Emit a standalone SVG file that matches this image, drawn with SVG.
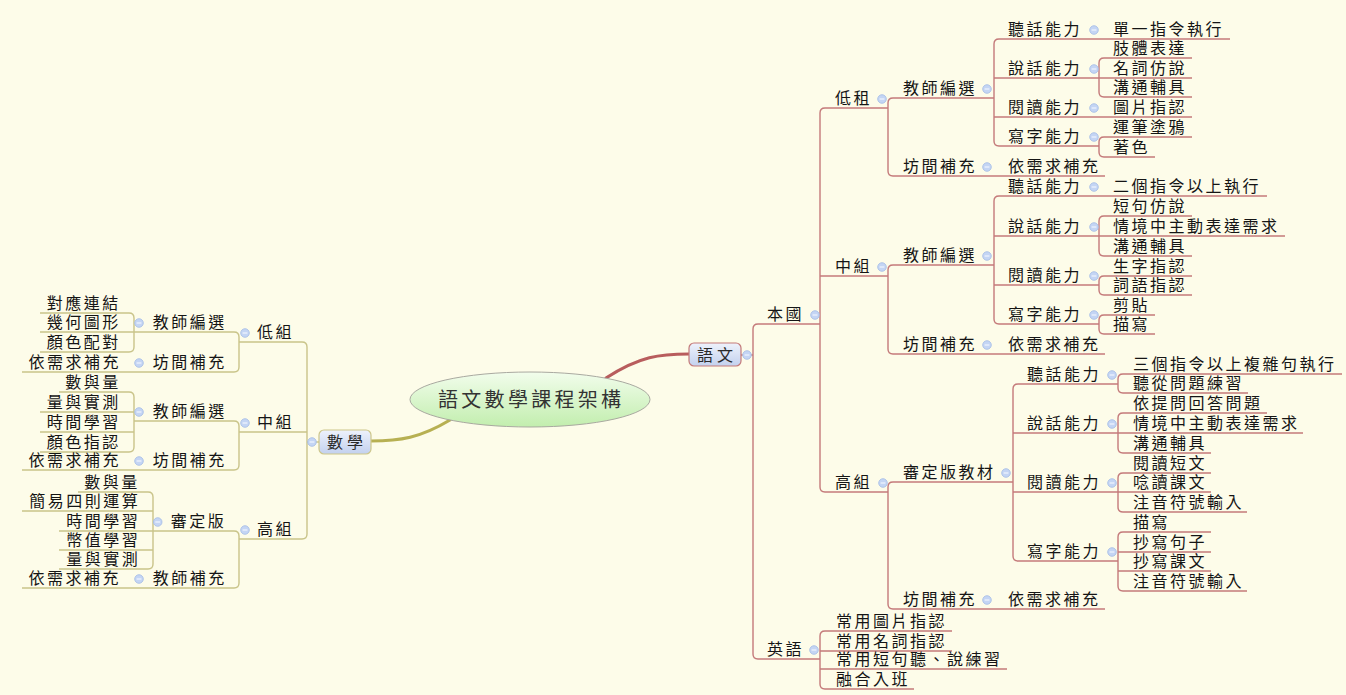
<svg xmlns="http://www.w3.org/2000/svg" xmlns:xlink="http://www.w3.org/1999/xlink" width="1346" height="695" viewBox="0 0 1346 695">
<style>
.t{font-family:"Noto Sans CJK TC","Noto Sans CJK SC",sans-serif;font-size:16px;letter-spacing:2.5px;fill:#151515}
.c{font-family:"Noto Sans CJK TC","Noto Sans CJK SC",sans-serif;font-size:20px;letter-spacing:3.3px;fill:#333}
.b{font-family:"Noto Sans CJK TC","Noto Sans CJK SC",sans-serif;font-size:16px;letter-spacing:4px;fill:#2a2a2a}
.r{fill:none;stroke:#c47a7a;stroke-width:1.4}
.o{fill:none;stroke:#c9c489;stroke-width:1.4}
</style>
<defs>
<linearGradient id="gBox" x1="0" y1="0" x2="0" y2="1"><stop offset="0" stop-color="#eef2fc"/><stop offset="1" stop-color="#c3d1ee"/></linearGradient>
<linearGradient id="gEl" x1="0" y1="0" x2="0" y2="1"><stop offset="0" stop-color="#f2fdec"/><stop offset="1" stop-color="#c2eeae"/></linearGradient>
<g id="mn"><circle r="4.3" fill="#c4d5f4" stroke="#a3bbe6" stroke-width="0.8"/><line x1="-2.4" y1="0" x2="2.4" y2="0" stroke="#f4f7ff" stroke-width="1.1"/></g>
</defs>
<rect x="0" y="0" width="1346" height="695" fill="#fdfce9"/>

<g id="connectors">
<path d="M606,378 C640,356 660,354 689,354" fill="none" stroke="#b85d5d" stroke-width="3.2" stroke-linecap="round"/>
<path d="M450,420 C420,438 400,441 371,441" fill="none" stroke="#b7b052" stroke-width="3.2" stroke-linecap="round"/>
<path class="r" d="M741,355 H753"/>
<path class="r" d="M758,324 Q753,324 753,329 V654 Q753,659 758,659"/>
<path class="r" d="M758,324 H820"/>
<path class="r" d="M758,659 H820"/>
<path class="r" d="M825,108 Q820,108 820,113 V487 Q820,492 825,492"/>
<path class="r" d="M825,108 H888"/>
<path class="r" d="M820,276 H888"/>
<path class="r" d="M825,492 H888"/>
<path class="r" d="M893,98 Q888,98 888,103 V171 Q888,176 893,176"/>
<path class="r" d="M893,98 H994"/>
<path class="r" d="M893,176 H1105"/>
<path class="r" d="M999,39 Q994,39 994,44 V141 Q994,146 999,146"/>
<path class="r" d="M999,39 H1230"/>
<path class="r" d="M994,78 H1099"/>
<path class="r" d="M994,117 H1192"/>
<path class="r" d="M999,146 H1099"/>
<path class="r" d="M1104,58 Q1099,58 1099,63 V92 Q1099,97 1104,97"/>
<path class="r" d="M1104,58 H1192 M1099,78 H1192 M1104,97 H1192"/>
<path class="r" d="M1104,137 Q1099,137 1099,142 V152 Q1099,157 1104,157"/>
<path class="r" d="M1104,137 H1192 M1104,157 H1155"/>
<path class="r" d="M893,265 Q888,265 888,270 V349 Q888,354 893,354"/>
<path class="r" d="M893,265 H994"/>
<path class="r" d="M893,354 H1105"/>
<path class="r" d="M999,196 Q994,196 994,201 V319 Q994,324 999,324"/>
<path class="r" d="M999,196 H1267"/>
<path class="r" d="M994,236 H1099"/>
<path class="r" d="M994,285 H1099"/>
<path class="r" d="M999,324 H1099"/>
<path class="r" d="M1104,216 Q1099,216 1099,221 V251 Q1099,256 1104,256"/>
<path class="r" d="M1104,216 H1192 M1099,236 H1285 M1104,256 H1192"/>
<path class="r" d="M1104,276 Q1099,276 1099,281 V290 Q1099,295 1104,295"/>
<path class="r" d="M1104,276 H1192 M1104,295 H1192"/>
<path class="r" d="M1104,315 Q1099,315 1099,320 V329 Q1099,334 1104,334"/>
<path class="r" d="M1104,315 H1155 M1104,334 H1155"/>
<path class="r" d="M893,482 Q888,482 888,487 V604 Q888,609 893,609"/>
<path class="r" d="M893,482 H1013"/>
<path class="r" d="M893,609 H1105"/>
<path class="r" d="M1018,384 Q1013,384 1013,389 V556 Q1013,561 1018,561"/>
<path class="r" d="M1018,384 H1118"/>
<path class="r" d="M1013,433 H1118"/>
<path class="r" d="M1013,492 H1118"/>
<path class="r" d="M1018,561 H1118"/>
<path class="r" d="M1123,374 Q1118,374 1118,379 V388 Q1118,393 1123,393"/>
<path class="r" d="M1123,374 H1342 M1123,393 H1248"/>
<path class="r" d="M1123,413 Q1118,413 1118,418 V448 Q1118,453 1123,453"/>
<path class="r" d="M1123,413 H1267 M1118,433 H1303 M1123,453 H1211"/>
<path class="r" d="M1123,473 Q1118,473 1118,478 V507 Q1118,512 1123,512"/>
<path class="r" d="M1123,473 H1211 M1118,492 H1211 M1123,512 H1247"/>
<path class="r" d="M1123,532 Q1118,532 1118,537 V586 Q1118,591 1123,591"/>
<path class="r" d="M1123,532 H1211 M1118,552 H1211 M1118,571 H1211 M1123,591 H1247"/>
<path class="r" d="M825,631 Q820,631 820,636 V684 Q820,689 825,689"/>
<path class="r" d="M825,631 H952 M820,651 H952 M820,669 H1007 M825,689 H914"/>
<path class="o" d="M319,442 H307"/>
<path class="o" d="M302,342 Q307,342 307,347 V534 Q307,539 302,539"/>
<path class="o" d="M302,342 H239 M307,432 H239 M302,539 H239"/>
<path class="o" d="M234,332 Q239,332 239,337 V367 Q239,372 234,372"/>
<path class="o" d="M234,332 H134 M234,372 H22"/>
<path class="o" d="M129,313 Q134,313 134,318 V347 Q134,352 129,352"/>
<path class="o" d="M129,313 H40 M134,332 H40 M129,352 H40"/>
<path class="o" d="M234,421 Q239,421 239,426 V465 Q239,470 234,470"/>
<path class="o" d="M234,421 H134 M234,470 H22"/>
<path class="o" d="M129,392 Q134,392 134,397 V447 Q134,452 129,452"/>
<path class="o" d="M129,392 H59 M134,412 H40 M134,432 H40 M129,452 H40"/>
<path class="o" d="M234,531 Q239,531 239,536 V583 Q239,588 234,588"/>
<path class="o" d="M234,531 H153 M234,588 H22"/>
<path class="o" d="M148,492 Q153,492 153,497 V564 Q153,569 148,569"/>
<path class="o" d="M148,492 H78 M153,511 H22 M153,531 H59 M153,550 H59 M148,569 H59"/>
</g>

<g id="root">
<ellipse cx="530" cy="399.5" rx="120" ry="27.5" fill="url(#gEl)" stroke="#a9a9a0" stroke-width="1"/>
<text class="c" x="438" y="406.5">語文數學課程架構</text>
</g>

<g id="yuwen">
<rect x="689" y="343" width="52" height="23" rx="5" fill="url(#gBox)" stroke="#c47a7a" stroke-width="1.2"/>
<text class="b" x="697" y="360.5">語文</text>
<use xlink:href="#mn" x="747" y="355"/>
</g>
<g id="shuxue">
<rect x="319" y="430" width="52" height="24" rx="5" fill="url(#gBox)" stroke="#cdc68a" stroke-width="1.2"/>
<text class="b" x="327" y="448">數學</text>
<use xlink:href="#mn" x="312" y="442"/>
</g>

<g id="benguo"><text class="t" x="767" y="319.5">本國</text><use xlink:href="#mn" x="815" y="315"/></g>
<g id="dizu"><text class="t" x="835" y="103.5">低租</text><use xlink:href="#mn" x="882" y="99"/></g>
<g id="dz-jsbx"><text class="t" x="903" y="93.5">教師編選</text><use xlink:href="#mn" x="987" y="89"/></g>
<g id="dz-tl"><text class="t" x="1008" y="34.5">聽話能力</text><use xlink:href="#mn" x="1094" y="30"/></g>
<g id="dz-tl-1"><text class="t" x="1113" y="34.5">單一指令執行</text></g>
<g id="dz-sh"><text class="t" x="1008" y="73.5">說話能力</text><use xlink:href="#mn" x="1094" y="69"/></g>
<g id="dz-sh-1"><text class="t" x="1113" y="53.5">肢體表達</text></g>
<g id="dz-sh-2"><text class="t" x="1113" y="73.5">名詞仿說</text></g>
<g id="dz-sh-3"><text class="t" x="1113" y="92.5">溝通輔具</text></g>
<g id="dz-yd"><text class="t" x="1008" y="112.5">閱讀能力</text><use xlink:href="#mn" x="1094" y="108"/></g>
<g id="dz-yd-1"><text class="t" x="1113" y="112.5">圖片指認</text></g>
<g id="dz-xz"><text class="t" x="1008" y="141.5">寫字能力</text><use xlink:href="#mn" x="1094" y="137"/></g>
<g id="dz-xz-1"><text class="t" x="1113" y="132.5">運筆塗鴉</text></g>
<g id="dz-xz-2"><text class="t" x="1113" y="152.5">著色</text></g>
<g id="dz-fj"><text class="t" x="903" y="171.5">坊間補充</text><use xlink:href="#mn" x="987" y="167"/></g>
<g id="dz-fj-1"><text class="t" x="1008" y="171.5">依需求補充</text></g>

<g id="zhongzu"><text class="t" x="835" y="271.5">中組</text><use xlink:href="#mn" x="882" y="267"/></g>
<g id="zz-jsbx"><text class="t" x="903" y="260.5">教師編選</text><use xlink:href="#mn" x="987" y="256"/></g>
<g id="zz-tl"><text class="t" x="1008" y="191.5">聽話能力</text><use xlink:href="#mn" x="1094" y="187"/></g>
<g id="zz-tl-1"><text class="t" x="1113" y="191.5">二個指令以上執行</text></g>
<g id="zz-sh"><text class="t" x="1008" y="231.5">說話能力</text><use xlink:href="#mn" x="1094" y="227"/></g>
<g id="zz-sh-1"><text class="t" x="1113" y="211.5">短句仿說</text></g>
<g id="zz-sh-2"><text class="t" x="1113" y="231.5">情境中主動表達需求</text></g>
<g id="zz-sh-3"><text class="t" x="1113" y="251.5">溝通輔具</text></g>
<g id="zz-yd"><text class="t" x="1008" y="280.5">閱讀能力</text><use xlink:href="#mn" x="1094" y="276"/></g>
<g id="zz-yd-1"><text class="t" x="1113" y="271.5">生字指認</text></g>
<g id="zz-yd-2"><text class="t" x="1113" y="290.5">詞語指認</text></g>
<g id="zz-xz"><text class="t" x="1008" y="319.5">寫字能力</text><use xlink:href="#mn" x="1094" y="315"/></g>
<g id="zz-xz-1"><text class="t" x="1113" y="310.5">剪貼</text></g>
<g id="zz-xz-2"><text class="t" x="1113" y="329.5">描寫</text></g>
<g id="zz-fj"><text class="t" x="903" y="349.5">坊間補充</text><use xlink:href="#mn" x="987" y="345"/></g>
<g id="zz-fj-1"><text class="t" x="1008" y="349.5">依需求補充</text></g>

<g id="gaozu"><text class="t" x="835" y="487.5">高組</text><use xlink:href="#mn" x="883" y="483"/></g>
<g id="gz-sd"><text class="t" x="903" y="477.5">審定版教材</text><use xlink:href="#mn" x="1006" y="473"/></g>
<g id="gz-tl"><text class="t" x="1027" y="379.5">聽話能力</text><use xlink:href="#mn" x="1112" y="375"/></g>
<g id="gz-tl-1"><text class="t" x="1133" y="369.5">三個指令以上複雜句執行</text></g>
<g id="gz-tl-2"><text class="t" x="1133" y="388.5">聽從問題練習</text></g>
<g id="gz-sh"><text class="t" x="1027" y="428.5">說話能力</text><use xlink:href="#mn" x="1112" y="424"/></g>
<g id="gz-sh-1"><text class="t" x="1133" y="408.5">依提問回答問題</text></g>
<g id="gz-sh-2"><text class="t" x="1133" y="428.5">情境中主動表達需求</text></g>
<g id="gz-sh-3"><text class="t" x="1133" y="448.5">溝通輔具</text></g>
<g id="gz-yd"><text class="t" x="1027" y="487.5">閱讀能力</text><use xlink:href="#mn" x="1112" y="483"/></g>
<g id="gz-yd-1"><text class="t" x="1133" y="468.5">閱讀短文</text></g>
<g id="gz-yd-2"><text class="t" x="1133" y="487.5">唸讀課文</text></g>
<g id="gz-yd-3"><text class="t" x="1133" y="507.5">注音符號輸入</text></g>
<g id="gz-xz"><text class="t" x="1027" y="556.5">寫字能力</text><use xlink:href="#mn" x="1112" y="552"/></g>
<g id="gz-xz-1"><text class="t" x="1133" y="527.5">描寫</text></g>
<g id="gz-xz-2"><text class="t" x="1133" y="547.5">抄寫句子</text></g>
<g id="gz-xz-3"><text class="t" x="1133" y="566.5">抄寫課文</text></g>
<g id="gz-xz-4"><text class="t" x="1133" y="586.5">注音符號輸入</text></g>
<g id="gz-fj"><text class="t" x="903" y="604.5">坊間補充</text><use xlink:href="#mn" x="987" y="600"/></g>
<g id="gz-fj-1"><text class="t" x="1008" y="604.5">依需求補充</text></g>

<g id="yingyu"><text class="t" x="767" y="654.5">英語</text><use xlink:href="#mn" x="814" y="650"/></g>
<g id="yy-1"><text class="t" x="836" y="626.5">常用圖片指認</text></g>
<g id="yy-2"><text class="t" x="836" y="646.5">常用名詞指認</text></g>
<g id="yy-3"><text class="t" x="836" y="664.5">常用短句聽、說練習</text></g>
<g id="yy-4"><text class="t" x="836" y="684.5">融合入班</text></g>

<g id="m-dizu"><text class="t" x="257" y="337.5">低組</text><use xlink:href="#mn" x="245" y="333"/></g>
<g id="m-dz-js"><text class="t" x="152.7" y="327.5">教師編選</text><use xlink:href="#mn" x="139" y="323"/></g>
<g id="m-dz-js-1"><text class="t" x="46.8" y="308.5">對應連結</text></g>
<g id="m-dz-js-2"><text class="t" x="46.8" y="327.5">幾何圖形</text></g>
<g id="m-dz-js-3"><text class="t" x="46.8" y="347.5">顏色配對</text></g>
<g id="m-dz-fj"><text class="t" x="152.7" y="367.5">坊間補充</text><use xlink:href="#mn" x="139" y="363"/></g>
<g id="m-dz-fj-1"><text class="t" x="28.5" y="367.5">依需求補充</text></g>

<g id="m-zhongzu"><text class="t" x="257" y="427.5">中組</text><use xlink:href="#mn" x="245" y="423"/></g>
<g id="m-zz-js"><text class="t" x="152.7" y="416.5">教師編選</text><use xlink:href="#mn" x="139" y="412"/></g>
<g id="m-zz-js-1"><text class="t" x="65.3" y="387.5">數與量</text></g>
<g id="m-zz-js-2"><text class="t" x="46.8" y="407.5">量與實測</text></g>
<g id="m-zz-js-3"><text class="t" x="46.8" y="427.5">時間學習</text></g>
<g id="m-zz-js-4"><text class="t" x="46.8" y="447.5">顏色指認</text></g>
<g id="m-zz-fj"><text class="t" x="152.7" y="465.5">坊間補充</text><use xlink:href="#mn" x="139" y="461"/></g>
<g id="m-zz-fj-1"><text class="t" x="28.5" y="465.5">依需求補充</text></g>

<g id="m-gaozu"><text class="t" x="257" y="534.5">高組</text><use xlink:href="#mn" x="245" y="530"/></g>
<g id="m-gz-sd"><text class="t" x="170.7" y="526.5">審定版</text><use xlink:href="#mn" x="157.7" y="522"/></g>
<g id="m-gz-sd-1"><text class="t" x="84.2" y="487.5">數與量</text></g>
<g id="m-gz-sd-2"><text class="t" x="29.2" y="506.5">簡易四則運算</text></g>
<g id="m-gz-sd-3"><text class="t" x="66.2" y="526.5">時間學習</text></g>
<g id="m-gz-sd-4"><text class="t" x="66.2" y="545.5">幣值學習</text></g>
<g id="m-gz-sd-5"><text class="t" x="66.2" y="564.5">量與實測</text></g>
<g id="m-gz-js"><text class="t" x="152.7" y="583.5">教師補充</text><use xlink:href="#mn" x="139" y="579"/></g>
<g id="m-gz-js-1"><text class="t" x="28.5" y="583.5">依需求補充</text></g>
</svg>
